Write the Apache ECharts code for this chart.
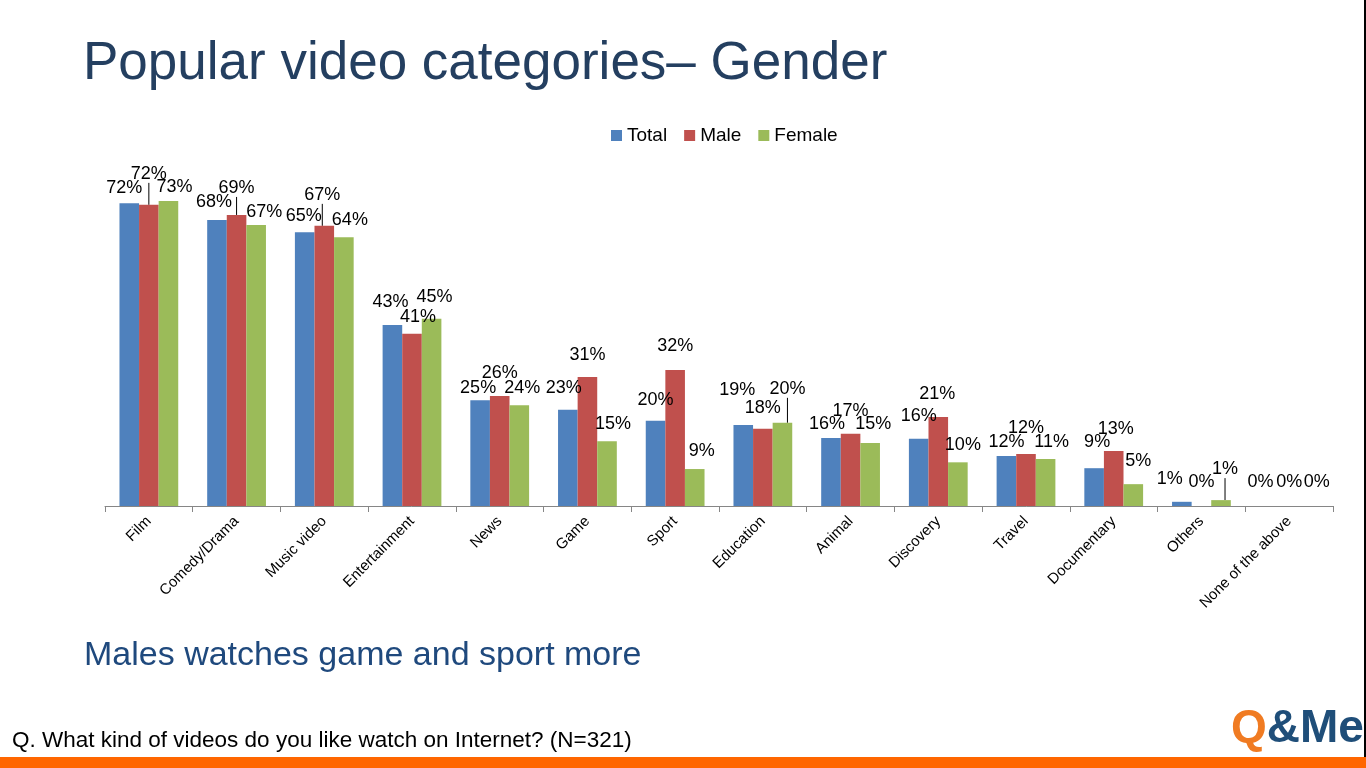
<!DOCTYPE html>
<html>
<head>
<meta charset="utf-8">
<script src="https://cdn.jsdelivr.net/npm/echarts@6/dist/echarts.min.js"></script>
<style>
html,body{margin:0;padding:0;background:#fff;}
#chart{width:1366px;height:768px;}
</style>
</head>
<body>
<div id="chart"></div>
<script>
const categories = ['Film','Comedy/Drama','Music video','Entertainment','News','Game','Sport','Education','Animal','Discovery','Travel','Documentary','Others','None of the above'];
const seriesNames = ['Total','Male','Female'];
const totalValues = [72.1, 68.1, 65.2, 43.1, 25.2, 22.9, 20.3, 19.3, 16.2, 16.0, 11.9, 9.0, 1.0, 0];
const maleValues = [71.7, 69.3, 66.7, 41.0, 26.2, 30.7, 32.4, 18.4, 17.2, 21.2, 12.4, 13.1, 0, 0];
const femaleValues = [72.6, 66.9, 64.0, 44.6, 24.0, 15.4, 8.8, 19.8, 15.0, 10.4, 11.2, 5.2, 1.4, 0];

// label nudges (style only), [dx, dy] per category
const totalLabelShift = [[-5,-1],[-3,-4],[-1,-2],[-2,-9],[-2,2],[-4,-8],[0,-7],[-6,-21],[-4,0],[0,-9],[0,0],[3,-12],[-12,-9],[-9,-10]];
const maleLabelShift = [[0,-17],[0,-13],[-2,-17],[6,-3],[0,-9],[0,-8],[0,-10],[0,-7],[0,-9],[-1,-9],[0,-12],[2,-8],[0,-10],[0,-10]];
const femaleLabelShift = [[6,0],[8,1],[6,-3],[3,-8],[3,-3],[6,-3],[7,-4],[5,-20],[3,-5],[5,-3],[6,-3],[5,-9],[4,-17],[8,-10]];
const maleLeader = [0,1,2];
const femaleLeader = [7,12];

const colors = ['#4F81BD','#C0504D','#9BBB59'];
const shifts = [totalLabelShift, maleLabelShift, femaleLabelShift];
const leaders = [[], maleLeader, femaleLeader];
const values = [totalValues, maleValues, femaleValues];
const FONT = 'Liberation Sans, Arial, sans-serif';

const chart = echarts.init(document.getElementById('chart'));
const series = values.map((vals, si) => ({
  name: seriesNames[si],
  type: 'bar',
  barGap: '0%',
  barCategoryGap: '33%',
  itemStyle: {color: colors[si]},
  data: vals.map((v, i) => {
    const item = {value: v};
    if (leaders[si].indexOf(i) >= 0) {
      item.labelLine = {show: true, lineStyle: {color: '#000', width: 1}};
    }
    return item;
  }),
  label: {
    show: true,
    position: 'top',
    distance: 5,
    fontFamily: FONT,
    fontSize: 18,
    color: '#000',
    formatter: p => Math.round(p.value) + '%'
  },
  labelLine: {show: false, lineStyle: {color: '#000', width: 1}},
  labelLayout: p => ({dx: shifts[si][p.dataIndex][0], dy: shifts[si][p.dataIndex][1]})
}));

chart.setOption({
  animation: false,
  textStyle: {fontFamily: FONT},
  legend: {
    top: 121, left: 606,
    itemWidth: 11, itemHeight: 11, itemGap: 17,
    icon: 'rect',
    textStyle: {fontSize: 19, color: '#000', fontFamily: FONT},
    data: seriesNames
  },
  grid: {left: 105, right: 33, top: 170, bottom: 262, containLabel: false},
  xAxis: {
    type: 'category',
    data: categories,
    axisLine: {lineStyle: {color: '#868686', width: 1}},
    axisTick: {show: true, length: 6, lineStyle: {color: '#868686'}},
    axisLabel: {rotate: 45, fontSize: 15, color: '#000', margin: 13, interval: 0, fontFamily: FONT}
  },
  yAxis: {type: 'value', min: 0, max: 80, show: false, splitLine: {show: false}},
  series: series,
  graphic: [
    {type: 'text', left: 83, top: 38, style: {text: 'Popular video categories– Gender', fontSize: 53, fill: '#243F60', fontFamily: FONT}},
    {type: 'text', left: 84, top: 639, style: {text: 'Males watches game and sport more', fontSize: 34, fill: '#1F497D', fontFamily: FONT}},
    {type: 'text', left: 12, top: 729, style: {text: 'Q. What kind of videos do you like watch on Internet? (N=321)', fontSize: 22.5, fill: '#000', fontFamily: FONT}},
    {type: 'rect', shape: {x: 0, y: 757, width: 1366, height: 11}, style: {fill: '#FF6600'}},
    {type: 'text', left: 1231, top: 706, style: {
      text: '{q|Q}{m|&Me}',
      rich: {
        q: {fontSize: 46, fontWeight: 'bold', fill: '#F07B22', fontFamily: FONT},
        m: {fontSize: 46, fontWeight: 'bold', fill: '#1F4E79', fontFamily: FONT}
      }
    }},
    {type: 'rect', shape: {x: 1364, y: 0, width: 2, height: 757}, style: {fill: '#000'}}
  ]
});
</script>
</body>
</html>
